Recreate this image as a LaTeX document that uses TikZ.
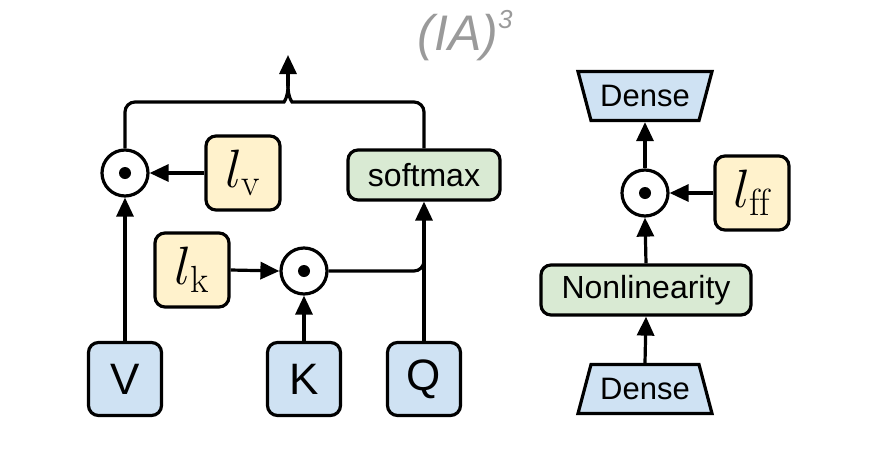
\documentclass[tikz,border=0pt]{standalone}
\usepackage{fix-cm}
\usepackage{fontspec}
\newfontfamily\lsans{Liberation Sans}
\usetikzlibrary{arrows.meta}
\definecolor{bluef}{HTML}{CFE2F3}
\definecolor{yellowf}{HTML}{FFF2CC}
\definecolor{greenf}{HTML}{D9EAD3}
\definecolor{titleg}{HTML}{9A9A9A}
\begin{document}
\begin{tikzpicture}[x=1pt,y=-1pt,line width=3.2pt,
  box/.style={draw,rounded corners=10pt,inner sep=0pt},
  inbox/.style={box,fill=bluef,minimum size=73pt,font=\lsans\fontsize{44}{48}\selectfont},
  scalebox/.style={box,fill=yellowf,minimum size=74pt,font=\fontsize{54}{60}\selectfont},
  opbox/.style={box,fill=greenf,minimum height=50pt,font=\lsans\fontsize{32}{36}\selectfont},
  densebox/.style={inner sep=0pt,minimum width=134pt,minimum height=49pt,font=\lsans\fontsize{31}{36}\selectfont},
  trap/.style={draw,fill=bluef,line join=miter},
  mult/.style={draw,circle,fill=white,minimum size=46pt,inner sep=0pt,
    path picture={\fill[black] (path picture bounding box.center) circle (6pt);}},
  arr/.style={-{Triangle[length=19pt,width=17pt]}},
  conn/.style={rounded corners=10pt}]
\useasboundingbox (0,0) rectangle (875,453);
% title
\node[text=titleg,font=\lsans\itshape\fontsize{50}{56}\selectfont] (title) at (465,36)
  {(IA)\raisebox{0.44em}{\fontsize{26}{30}\selectfont 3}};
% left panel
\node[mult] (c1) at (125,173) {};
\node[scalebox] (lv) at (243,173) {$l_{\mathrm{v}}$};
\node[opbox,minimum width=152pt] (sm) at (424,175) {softmax};
\node[scalebox] (lk) at (192,270) {$l_{\mathrm{k}}$};
\node[mult] (c2) at (304,271) {};
\node[inbox] (V) at (125,379) {V};
\node[inbox] (K) at (304,379) {K};
\node[inbox] (Q) at (424,379) {Q};
\coordinate (out) at (288,55);
\coordinate (bump) at (288,86);
\coordinate (join) at (424,250);
% connectors
\draw[arr] (V.north) -- (c1.south);
\draw[arr] (lv.west) -- (c1.east);
\draw[arr] (lk.east) -- (c2.west);
\draw[arr] (K.north) -- (c2.south);
\draw[arr] (Q.north) -- (sm.south);
\draw[conn] (c2.east) -- (c2.east -| join) -- (join);
\draw[conn] (c1.north) -- (125,102) -- (274,102) .. controls (284,102) and (288,97) .. (bump);
\draw[conn] (sm.north) -- (424,102) -- (302,102) .. controls (292,102) and (288,97) .. (bump);
\draw[arr] (bump) -- (out);
% right panel
\coordinate (d1c) at (645,96);
\coordinate (d2c) at (645,389);
\draw[trap] ([shift={(-67,-24.5)}]d1c) -- ([shift={(67,-24.5)}]d1c) -- ([shift={(54,24.5)}]d1c) -- ([shift={(-54,24.5)}]d1c) -- cycle;
\draw[trap] ([shift={(-54,-24.5)}]d2c) -- ([shift={(54,-24.5)}]d2c) -- ([shift={(67,24.5)}]d2c) -- ([shift={(-67,24.5)}]d2c) -- cycle;
\node[densebox] (d1) at (d1c) {Dense};
\node[mult] (c3) at (645,193) {};
\node[scalebox] (lff) at (752,193) {$l_{\mathrm{ff}}$};
\node[opbox,minimum width=210pt] (nl) at (646,290) {Nonlinearity};
\node[densebox] (d2) at (d2c) {Dense};
\draw[arr] (d2.north) -- (nl.south);
\draw[arr] (nl.north) -- (c3.south);
\draw[arr] (c3.north) -- (d1.south);
\draw[arr] (lff.west) -- (c3.east);
\end{tikzpicture}
\end{document}
